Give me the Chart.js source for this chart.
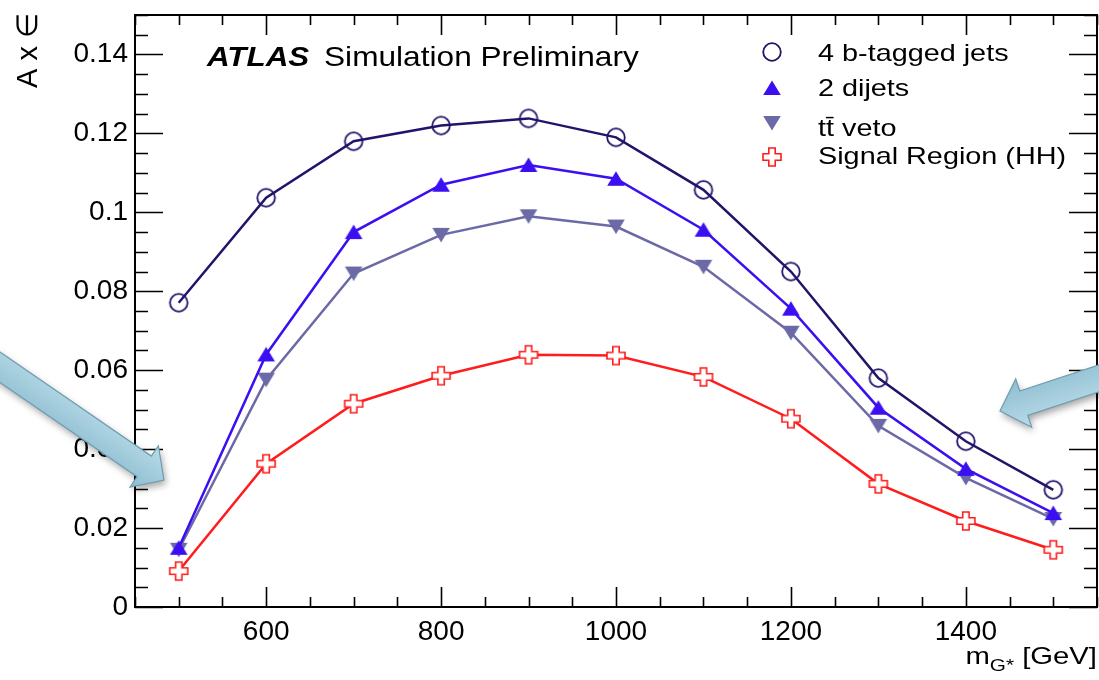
<!DOCTYPE html>
<html>
<head>
<meta charset="utf-8">
<script src="https://cdn.jsdelivr.net/npm/chart.js@4/dist/chart.umd.min.js"></script>
<style>
  body { margin: 0; background: #fff; }
  canvas { display: block; }
</style>
</head>
<body>
<canvas id="myChart" width="1099" height="680"></canvas>
<script>
// graviton mass points [GeV]
const masses = [500, 600, 700, 800, 900, 1000, 1100, 1200, 1300, 1400, 1500];

// A x eff after each selection step
const fourBTagged  = [0.0771, 0.1037, 0.1180, 0.1220, 0.1238, 0.1190, 0.1057, 0.0850, 0.0580, 0.0420, 0.0297];
const twoDijets    = [0.0150, 0.0640, 0.0950, 0.1070, 0.1120, 0.1085, 0.0956, 0.0756, 0.0505, 0.0350, 0.0238];
const ttVeto       = [0.0145, 0.0576, 0.0845, 0.0943, 0.0990, 0.0964, 0.0862, 0.0695, 0.0459, 0.0327, 0.0223];
const signalRegion = [0.0091, 0.0363, 0.0515, 0.0586, 0.0639, 0.0637, 0.0583, 0.0477, 0.0312, 0.0218, 0.0145];

const seriesLabels = ["4 b-tagged jets", "2 dijets", "tt\u0304 veto", "Signal Region (HH)"];
const seriesColors = ["#21146a", "#3c0ff2", "#6b69a6", "#ff1c1c"];

const FONT = '"Liberation Sans", Arial, Helvetica, sans-serif';

// ROOT-like markers as little canvases
function makeMarker(kind, color) {
  const c = document.createElement("canvas");
  c.width = 24; c.height = 24;
  const g = c.getContext("2d");
  g.translate(12, 12);
  g.strokeStyle = color;
  g.fillStyle = color;
  if (kind === "circle") {
    g.lineWidth = 1.8;
    g.beginPath();
    g.arc(0, 0, 8.8, 0, 2 * Math.PI);
    g.stroke();
  } else if (kind === "up") {
    g.beginPath();
    g.moveTo(0, -7.5); g.lineTo(8.8, 7); g.lineTo(-8.8, 7);
    g.closePath(); g.fill();
  } else if (kind === "down") {
    g.beginPath();
    g.moveTo(0, 7.5); g.lineTo(8.8, -7); g.lineTo(-8.8, -7);
    g.closePath(); g.fill();
  } else {
    const a = 3.2, b = 9;
    g.beginPath();
    g.moveTo(-a, -b); g.lineTo(a, -b); g.lineTo(a, -a); g.lineTo(b, -a);
    g.lineTo(b, a); g.lineTo(a, a); g.lineTo(a, b); g.lineTo(-a, b);
    g.lineTo(-a, a); g.lineTo(-b, a); g.lineTo(-b, -a); g.lineTo(-a, -a);
    g.closePath();
    g.fillStyle = "#fff";
    g.fill();
    g.lineWidth = 1.6;
    g.stroke();
  }
  return c;
}

const markers = [
  makeMarker("circle", seriesColors[0]),
  makeMarker("up", seriesColors[1]),
  makeMarker("down", seriesColors[2]),
  makeMarker("plus", seriesColors[3]),
];

function series(values, i) {
  return {
    label: seriesLabels[i],
    data: masses.map((m, k) => ({ x: m, y: values[k] })),
    borderColor: seriesColors[i],
    backgroundColor: seriesColors[i],
    borderWidth: 2.5,
    pointStyle: markers[i],
    tension: 0,
  };
}

function stretchText(c, str, x, y, sx, align) {
  c.save();
  c.translate(x, y);
  c.scale(sx, 1);
  c.textAlign = align || "left";
  c.fillText(str, 0, 0);
  c.restore();
}

// inward ticks on all four sides + frame
const framePlugin = {
  id: "frame",
  beforeDatasetsDraw(chart) {
    const c = chart.ctx;
    const a = chart.chartArea;
    const xs = chart.scales.x, ys = chart.scales.y;
    c.save();
    c.strokeStyle = "#000";
    c.lineWidth = 1.6;
    c.beginPath();
    for (let k = 0; k <= 30; k++) {
      const py = Math.round(ys.getPixelForValue(k * 0.005)) + 0.5;
      const len = k % 4 === 0 ? 28 : 13;
      c.moveTo(a.left, py); c.lineTo(a.left + len, py);
      c.moveTo(a.right, py); c.lineTo(a.right - len, py);
    }
    for (let m = 450; m <= 1550; m += 50) {
      const px = Math.round(xs.getPixelForValue(m)) + 0.5;
      const len = m % 200 === 0 ? 20 : 10;
      c.moveTo(px, a.bottom); c.lineTo(px, a.bottom - len);
      c.moveTo(px, a.top); c.lineTo(px, a.top + len);
    }
    c.stroke();
    c.lineWidth = 2;
    c.strokeRect(a.left, a.top, a.right - a.left, a.bottom - a.top);
    c.restore();
  },
};

function drawArrow(c, tail, tip, shaftHalf, headHalf, headLen) {
  const dx = tip[0] - tail[0], dy = tip[1] - tail[1];
  const L = Math.hypot(dx, dy);
  const ux = dx / L, uy = dy / L;
  const nx = -uy, ny = ux;
  const bx = tip[0] - ux * headLen, by = tip[1] - uy * headLen;
  const pts = [
    [tail[0] + nx * shaftHalf, tail[1] + ny * shaftHalf],
    [bx + nx * shaftHalf, by + ny * shaftHalf],
    [bx + nx * headHalf, by + ny * headHalf],
    tip,
    [bx - nx * headHalf, by - ny * headHalf],
    [bx - nx * shaftHalf, by - ny * shaftHalf],
    [tail[0] - nx * shaftHalf, tail[1] - ny * shaftHalf],
  ];
  c.save();
  const grad = c.createLinearGradient(
    bx - nx * headHalf, by - ny * headHalf, bx + nx * headHalf, by + ny * headHalf);
  grad.addColorStop(0, "#b9dbe8");
  grad.addColorStop(1, "#8dbdd0");
  c.beginPath();
  pts.forEach((p, i) => (i ? c.lineTo(p[0], p[1]) : c.moveTo(p[0], p[1])));
  c.closePath();
  c.shadowColor = "rgba(0,0,0,0.35)";
  c.shadowBlur = 7;
  c.shadowOffsetX = 2;
  c.shadowOffsetY = 4;
  c.fillStyle = grad;
  c.fill();
  c.shadowColor = "transparent";
  c.strokeStyle = "#6f9db1";
  c.lineWidth = 1.2;
  c.stroke();
  c.restore();
}

const labelsPlugin = {
  id: "labels",
  afterDraw(chart) {
    const c = chart.ctx;
    c.save();
    c.fillStyle = "#000";
    c.textBaseline = "alphabetic";

    // ATLAS label
    c.font = "italic bold 28px " + FONT;
    stretchText(c, "ATLAS", 207, 66, 1.12);
    c.font = "28px " + FONT;
    stretchText(c, "Simulation Preliminary", 324, 66, 1.13);

    // legend
    const rows = [61, 96, 136, 164];
    const markY = [52, 88, 123, 157];
    c.font = "24px " + FONT;
    chart.data.datasets.forEach((ds, i) => {
      c.drawImage(markers[i], 772 - 12, markY[i] - 12);
      stretchText(c, ds.label, 818, rows[i], 1.2);
    });

    // y title
    c.save();
    c.translate(37, 13);
    c.rotate(-Math.PI / 2);
    c.font = "29px " + FONT;
    c.textAlign = "right";
    c.fillText("A x \u2208", 0, 0);
    c.restore();

    // x title: m_{G*} [GeV]
    const sx = 1.22;
    c.font = "24px " + FONT;
    const wM = c.measureText("m").width * sx;
    const wU = c.measureText(" [GeV]").width * sx;
    c.font = "17px " + FONT;
    const wS = c.measureText("G*").width * sx;
    const x0 = 1097 - wM - wS - wU;
    c.font = "24px " + FONT;
    stretchText(c, "m", x0, 664, sx);
    c.font = "17px " + FONT;
    stretchText(c, "G*", x0 + wM, 671, sx);
    c.font = "24px " + FONT;
    stretchText(c, " [GeV]", x0 + wM + wS, 664, sx);
    c.restore();

    // the two pointer arrows pasted on the slide
    drawArrow(c, [-12, 359], [164, 480], 12.5, 25, 24);
    drawArrow(c, [1112, 374], [1000, 411], 12.8, 25.5, 25);
  },
};

const tickFont = { family: FONT, size: 28 };

function noPad(s) {
  s.paddingLeft = 0; s.paddingRight = 0; s.paddingTop = 0; s.paddingBottom = 0;
}

const ctx = document.getElementById("myChart").getContext("2d");
new Chart(ctx, {
  type: "line",
  data: {
    datasets: [
      series(fourBTagged, 0),
      series(twoDijets, 1),
      series(ttVeto, 2),
      series(signalRegion, 3),
    ],
  },
  options: {
    responsive: false,
    animation: false,
    events: [],
    layout: { autoPadding: false, padding: { top: 15, right: 2, left: 0, bottom: 0 } },
    plugins: { legend: { display: false }, tooltip: { enabled: false } },
    scales: {
      x: {
        type: "linear",
        min: 450,
        max: 1550,
        grid: { display: false, drawTicks: false },
        border: { display: false },
        ticks: {
          stepSize: 200,
          autoSkip: false,
          maxRotation: 0,
          padding: 8,
          color: "#000",
          font: tickFont,
          callback: (v) => (v % 200 === 0 ? String(v) : ""),
        },
        afterFit: (s) => { s.height = 73; noPad(s); },
      },
      y: {
        min: 0,
        max: 0.15,
        grid: { display: false, drawTicks: false },
        border: { display: false },
        ticks: {
          stepSize: 0.02,
          autoSkip: false,
          padding: 7,
          color: "#000",
          font: tickFont,
          callback: (v) => {
            const k = Math.round(v / 0.02);
            if (Math.abs(v - k * 0.02) > 1e-6) return "";
            return String(Number((k * 0.02).toFixed(2)));
          },
        },
        afterFit: (s) => { s.width = 135; noPad(s); },
      },
    },
  },
  plugins: [framePlugin, labelsPlugin],
});
</script>
</body>
</html>
